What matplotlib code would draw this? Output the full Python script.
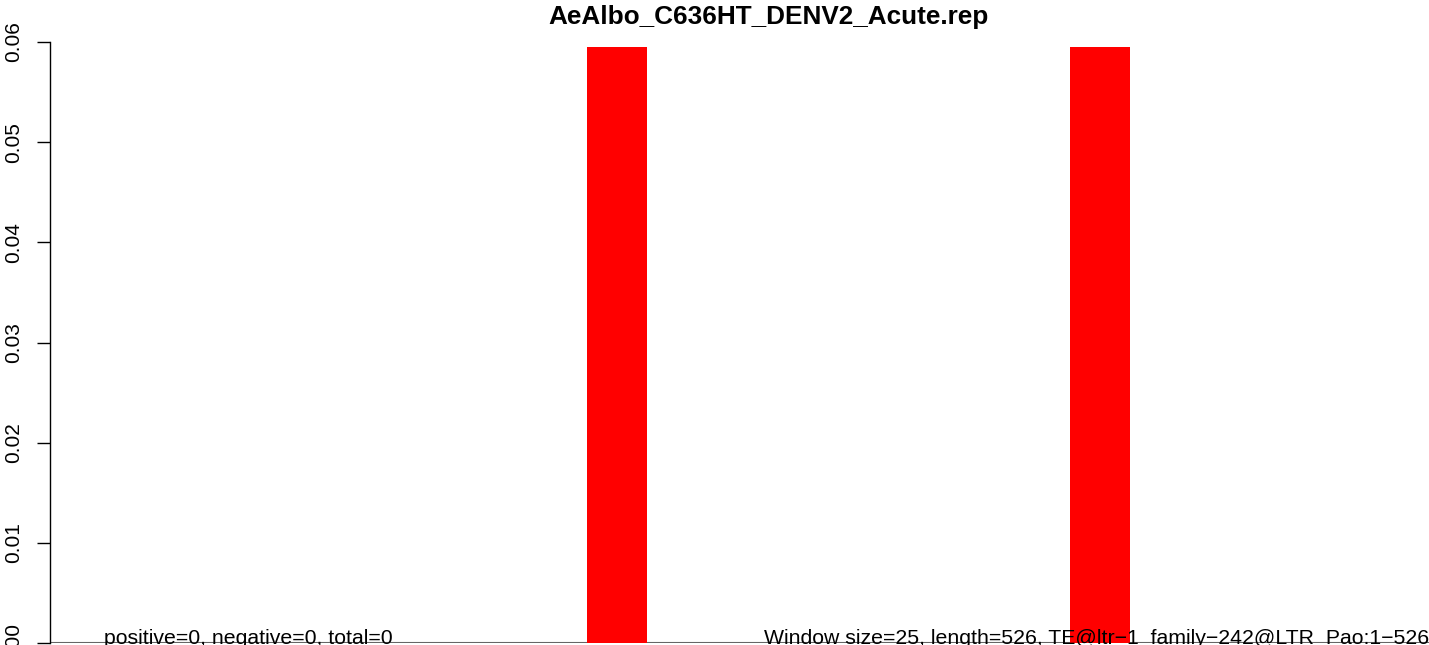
import matplotlib
matplotlib.use("Agg")
import matplotlib.pyplot as plt

# Data
title = "AeAlbo_C636HT_DENV2_Acute.rep"
bar_starts = [225, 425]   # window start positions
bar_heights = [0.0595, 0.0595]
window_size = 25
y_ticks = [0.00, 0.01, 0.02, 0.03, 0.04, 0.05, 0.06]
left_note = "positive=0, negative=0, total=0"
right_note = "Window size=25, length=526, TE@ltr\u22121_family\u2212242@LTR_Pao:1\u2212526"

plt.rcParams['font.family'] = ['Liberation Sans', 'DejaVu Sans']

W, H = 1429, 645
fig = plt.figure(figsize=(W / 100, H / 100), dpi=100)
ax = fig.add_axes([50 / W, 2 / H, 1 - 50 / W, (643 - 42) / H])

ax.bar(bar_starts, bar_heights, width=window_size, align='edge',
       color='#ff0000', linewidth=0, zorder=2)
ax.axhline(0, color='#666666', linewidth=1.5, zorder=1)

ax.set_xlim(2.6, 573.7)
ax.set_ylim(0, 0.06)
ax.set_yticks(y_ticks)
ax.set_yticklabels([f"{t:.2f}" for t in y_ticks], rotation=90, va='center', fontsize=15)
ax.tick_params(axis='y', length=9.5, width=1, pad=10, direction='out')
ax.set_xticks([])
for s in ['top', 'right', 'bottom']:
    ax.spines[s].set_visible(False)
ax.spines['left'].set_linewidth(1)

ax.text(25, -0.0001, left_note, fontsize=15.3, ha='left', va='baseline',
        zorder=3, clip_on=False)
ax.text(1.0, -0.0001, right_note, transform=ax.get_yaxis_transform(), fontsize=15.3,
        ha='right', va='baseline', zorder=3, clip_on=False)

fig.text(0.5375, 0.993, title, fontsize=18.8, fontweight='bold', ha='center', va='top')

fig.savefig("out.png", dpi=100)
